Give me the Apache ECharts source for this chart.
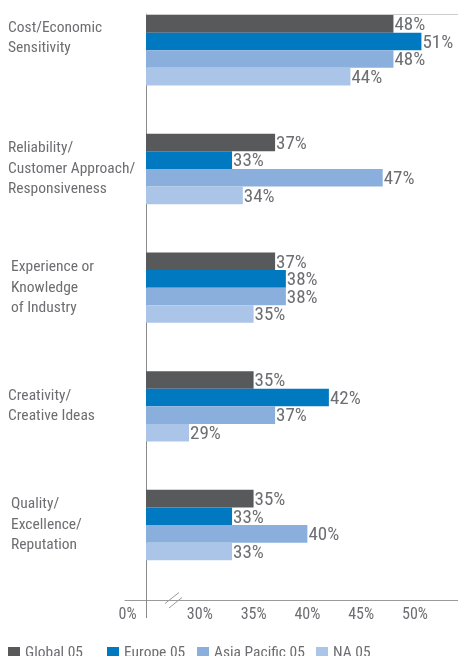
<!DOCTYPE html>
<html>
<head>
<meta charset="utf-8">
<script src="https://cdn.jsdelivr.net/npm/echarts@6.0.0/dist/echarts.min.js"></script>
<style>
html,body{margin:0;padding:0;background:#fff;}
#chart{width:458px;height:656px;}
</style>
</head>
<body>
<div id="chart"></div>
<script>
const categories = [
  'Cost/Economic\nSensitivity',
  'Reliability/\nCustomer Approach/\nResponsiveness',
  'Experience or\nKnowledge\nof Industry',
  'Creativity/\nCreative Ideas',
  'Quality/\nExcellence/\nReputation'
];
const seriesNames = ['Global 05', 'Europe 05', 'Asia Pacific 05', 'NA 05'];
const globalValues = [48, 37, 37, 35, 35];
const europeValues = [50.6, 33, 38, 42, 33];
const asiaValues = [48, 47, 38, 37, 40];
const naValues = [44, 34, 35, 29, 33];
const tickLabels = ['30%', '35%', '40%', '45%', '50%'];
const breakLabel = '0%';

const FONT = "'Roboto Condensed', 'Open Sans Condensed', 'DejaVu Sans Condensed', sans-serif";
const colors = ['#58595b', '#0079c1', '#8aafdc', '#aac5e7'];
const TXT = '#6d6e71';

const labelPadLeft = [0, 0, 3, 0, 3];
const yData = categories.map((c, i) => ({
  value: c,
  textStyle: {padding: [0, 0, 0, labelPadLeft[i]], align: 'left', verticalAlign: 'middle'}
}));

const seriesData = [globalValues, europeValues, asiaValues, naValues];
const series = seriesNames.map((n, i) => ({
  name: n,
  type: 'bar',
  xAxisIndex: 3,
  yAxisIndex: 2,
  data: seriesData[i],
  barWidth: 17.6,
  barGap: '0%',
  itemStyle: {color: colors[i]},
  label: {
    show: true,
    position: 'right',
    distance: 1,
    offset: [0, 1.5],
    color: TXT,
    fontSize: 19,
    fontFamily: FONT,
    formatter: p => Math.round(p.value) + '%'
  }
}));

const legendLefts = [8, 107, 197, 316];
const legends = seriesNames.map((n, i) => ({
  data: [n],
  left: legendLefts[i],
  top: 645,
  icon: 'rect',
  itemWidth: 12,
  itemHeight: 12,
  padding: 0,
  textStyle: {color: TXT, fontSize: 15.5, fontFamily: FONT}
}));

const chart = echarts.init(document.getElementById('chart'), null, {renderer: 'canvas'});
chart.setOption({
  backgroundColor: '#fff',
  animation: false,
  legend: legends,
  grid: [
    {left: 146, right: 0, top: 14, bottom: 56, outerBoundsMode: 'none'},
    {left: 125, width: 21, top: 14, bottom: 56, outerBoundsMode: 'none'},
    {left: 146, right: 0, top: -9.1, height: 593.5, outerBoundsMode: 'none'}
  ],
  xAxis: [
    {
      gridIndex: 0, type: 'value', min: 25, max: 54, interval: 5, position: 'bottom',
      axisLine: {show: true, onZero: false, lineStyle: {color: '#9a9a9a', width: 1}},
      axisTick: {show: true, customValues: [25], length: 18, lineStyle: {color: '#8a8a8a'}},
      axisLabel: {
        margin: 6.5, color: TXT, fontSize: 16, fontFamily: FONT,
        showMaxLabel: true, showMinLabel: true,
        formatter: v => {
          if (v === 25) return '{z|' + breakLabel + '}';
          const idx = [30,35,40,45,50].indexOf(v);
          return idx >= 0 ? tickLabels[idx] : '';
        },
        rich: {z: {color: TXT, fontSize: 16, fontFamily: FONT, padding: [0, 37, 0, 0]}}
      },
      splitLine: {show: true, showMinLine: false, showMaxLine: false, lineStyle: {color: '#c4c4c4', width: 1}}
    },
    {
      gridIndex: 0, type: 'value', min: 25, max: 54, position: 'top',
      axisLine: {show: true, onZero: false, lineStyle: {color: '#cccccc', width: 1}},
      axisTick: {show: false}, axisLabel: {show: false}, splitLine: {show: false}
    },
    {
      gridIndex: 1, type: 'value', min: 0, max: 1,
      axisLine: {show: true, onZero: false, lineStyle: {color: '#9a9a9a', width: 1}},
      axisTick: {show: false}, axisLabel: {show: false}, splitLine: {show: false}
    },
    {gridIndex: 2, type: 'value', min: 25, max: 54, show: false}
  ],
  yAxis: [
    {
      gridIndex: 0, type: 'value', min: 0, max: 1,
      axisLine: {show: true, onZero: false, lineStyle: {color: '#8a8a8a', width: 1}},
      axisTick: {show: false}, axisLabel: {show: false}, splitLine: {show: false}
    },
    {gridIndex: 1, type: 'value', min: 0, max: 1, show: false},
    {
      gridIndex: 2, type: 'category', inverse: true, data: yData,
      axisLine: {show: false}, axisTick: {show: false}, splitLine: {show: false},
      axisLabel: {
        align: 'left', verticalAlign: 'middle', margin: 138,
        color: TXT, fontSize: 15.5, lineHeight: 20.5, fontFamily: FONT, interval: 0,
        formatter: (v, i) => i === 0 ? v + '\n{s| }' : v,
        rich: {s: {fontSize: 10, lineHeight: 24}}
      }
    }
  ],
  graphic: [
    {type: 'line', shape: {x1: 165, y1: 603.5, x2: 179, y2: 592.5}, style: {stroke: '#9a9a9a', lineWidth: 1}, z: 10},
    {type: 'line', shape: {x1: 169, y1: 608, x2: 182, y2: 597.5}, style: {stroke: '#9a9a9a', lineWidth: 1}, z: 10}
  ],
  series: series
});
</script>
</body>
</html>
